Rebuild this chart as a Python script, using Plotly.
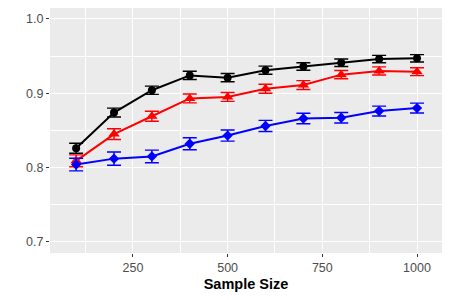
import plotly.graph_objects as go

sample_size = [100, 200, 300, 400, 500, 600, 700, 800, 900, 1000]

black_vals = [0.826, 0.874, 0.904, 0.924, 0.921, 0.931, 0.936, 0.941, 0.946, 0.947]
black_err = [0.0067, 0.006, 0.0055, 0.0055, 0.0055, 0.0055, 0.005, 0.005, 0.005, 0.005]

red_vals = [0.809, 0.845, 0.869, 0.893, 0.895, 0.906, 0.911, 0.925, 0.930, 0.929]
red_err = [0.008, 0.0072, 0.0067, 0.006, 0.006, 0.006, 0.006, 0.0055, 0.0055, 0.0053]

blue_vals = [0.804, 0.812, 0.815, 0.832, 0.843, 0.856, 0.866, 0.867, 0.876, 0.880]
blue_err = [0.0085, 0.009, 0.0085, 0.008, 0.0075, 0.0075, 0.007, 0.007, 0.0067, 0.0067]

x_ticks = [250, 500, 750, 1000]
x_minor = [125, 375, 625, 875]
y_ticks = [0.7, 0.8, 0.9, 1.0]
y_minor = [0.75, 0.85, 0.95]

series = [
    (black_vals, black_err, "black", "circle", 8),
    (red_vals, red_err, "red", "triangle-up", 10),
    (blue_vals, blue_err, "blue", "diamond", 8),
]

fig = go.Figure()
for vals, err, col, sym, sz in series:
    fig.add_trace(go.Scatter(
        x=sample_size, y=vals, mode="lines+markers",
        line=dict(color=col, width=2),
        marker=dict(color=col, symbol=sym, size=sz),
        error_y=dict(type="data", array=err, visible=True, color=col, thickness=1.4, width=7),
        showlegend=False,
    ))

fig.update_layout(
    width=450, height=300,
    margin=dict(l=42, r=16, t=0, b=55),
    paper_bgcolor="white",
    plot_bgcolor="#EBEBEB",
    font=dict(family="Liberation Sans, Arial, sans-serif", size=12, color="#4D4D4D"),
)
fig.update_xaxes(
    range=[31, 1066], tickvals=x_ticks, ticktext=[str(v) for v in x_ticks],
    showgrid=True, gridcolor="white", gridwidth=1.1, zeroline=False,
    ticks="outside", ticklen=3, tickcolor="#333333", tickwidth=1,
    minor=dict(tickvals=x_minor, showgrid=True, gridcolor="white", gridwidth=0.5, ticks=""),
    title=dict(text="<b>Sample Size</b>", font=dict(size=14.5, color="black"), standoff=4),
    tickfont=dict(size=12.5, color="#4D4D4D"),
    automargin=False,
)
fig.update_yaxes(
    range=[0.685, 1.0147], tickvals=y_ticks, ticktext=["0.7", "0.8", "0.9", "1.0"],
    showgrid=True, gridcolor="white", gridwidth=1.1, zeroline=False,
    ticks="outside", ticklen=3, tickcolor="#333333", tickwidth=1,
    minor=dict(tickvals=y_minor, showgrid=True, gridcolor="white", gridwidth=0.5, ticks=""),
    tickfont=dict(size=12.5, color="#4D4D4D"),
    automargin=False,
)

fig.write_html("out.html")
